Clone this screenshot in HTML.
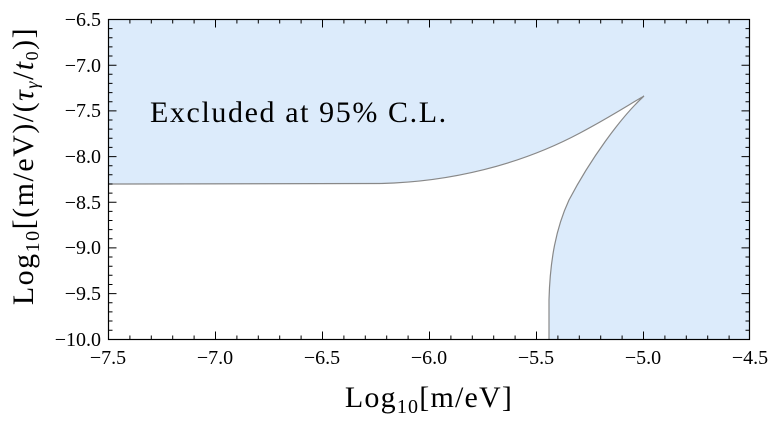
<!DOCTYPE html>
<html><head><style>body{margin:0;background:#fff}</style></head><body>
<svg width="774" height="418" xmlns="http://www.w3.org/2000/svg" font-family="Liberation Serif, serif">
<rect x="108.5" y="19.5" width="641" height="320" fill="#dcebfb"/>
<path d="M108.5,184 L380,183.5 C450,182 520,165 580,133 C610,117 630,104 644,96 C620,118 590,160 569,200 C556,228 550,260 549,300 L549,339.5 L108.5,339.5 Z" fill="#fff"/>
<path d="M108.5,184 L380,183.5 C450,182 520,165 580,133 C610,117 630,104 644,96 C620,118 590,160 569,200 C556,228 550,260 549,300 L549,339.5" fill="none" stroke="#888" stroke-width="1.2"/>
<rect x="108.5" y="19.5" width="641" height="320" fill="none" stroke="#000" stroke-width="1.2"/>
<g font-size="20" text-anchor="end">
<text x="101" y="26">−6.5</text><text x="101" y="72">−7.0</text><text x="101" y="117">−7.5</text><text x="101" y="163">−8.0</text><text x="101" y="209">−8.5</text><text x="101" y="254">−9.0</text><text x="101" y="300">−9.5</text><text x="101" y="346">−10.0</text>
</g>
<g font-size="20" text-anchor="middle">
<text x="108" y="364">−7.5</text><text x="215" y="364">−7.0</text><text x="322" y="364">−6.5</text><text x="429" y="364">−6.0</text><text x="536" y="364">−5.5</text><text x="643" y="364">−5.0</text><text x="750" y="364">−4.5</text>
</g>
<text x="150" y="122" font-size="30" letter-spacing="1.6">Excluded at 95% C.L.</text>
<text x="429" y="407" font-size="30" letter-spacing="1.2" text-anchor="middle">Log<tspan font-size="20" dy="6">10</tspan><tspan dy="-6">[m/eV]</tspan></text>
<text transform="translate(33,166) rotate(-90)" font-size="30" letter-spacing="1.5" text-anchor="middle">Log<tspan font-size="20" dy="6">10</tspan><tspan dy="-6">[(m/eV)/(</tspan><tspan font-style="italic">τ</tspan><tspan font-size="18" dy="5" font-style="italic">γ</tspan><tspan dy="-5">/</tspan><tspan font-style="italic">t</tspan><tspan font-size="18" dy="5">0</tspan><tspan dy="-5">)]</tspan></text>
<g stroke="#000" stroke-width="1">
<path d="M108.5,339.5v-8M129.9,339.5v-4M151.3,339.5v-4M172.7,339.5v-4M194.1,339.5v-4M215.5,339.5v-8M236.9,339.5v-4M258.3,339.5v-4M279.7,339.5v-4M301.1,339.5v-4M322.5,339.5v-8M343.9,339.5v-4M365.3,339.5v-4M386.7,339.5v-4M408.1,339.5v-4M429.5,339.5v-8M450.9,339.5v-4M472.3,339.5v-4M493.7,339.5v-4M515.1,339.5v-4M536.5,339.5v-8M557.9,339.5v-4M579.3,339.5v-4M600.7,339.5v-4M622.1,339.5v-4M643.5,339.5v-8M664.9,339.5v-4M686.3,339.5v-4M707.7,339.5v-4M729.1,339.5v-4"/>
<path d="M108.5,19.5v8M129.9,19.5v4M151.3,19.5v4M172.7,19.5v4M194.1,19.5v4M215.5,19.5v8M236.9,19.5v4M258.3,19.5v4M279.7,19.5v4M301.1,19.5v4M322.5,19.5v8M343.9,19.5v4M365.3,19.5v4M386.7,19.5v4M408.1,19.5v4M429.5,19.5v8M450.9,19.5v4M472.3,19.5v4M493.7,19.5v4M515.1,19.5v4M536.5,19.5v8M557.9,19.5v4M579.3,19.5v4M600.7,19.5v4M622.1,19.5v4M643.5,19.5v8M664.9,19.5v4M686.3,19.5v4M707.7,19.5v4M729.1,19.5v4"/>
<path d="M108.5,19.5h8M108.5,28.6h4M108.5,37.8h4M108.5,46.9h4M108.5,56h4M108.5,65.2h8M108.5,74.3h4M108.5,83.4h4M108.5,92.6h4M108.5,101.7h4M108.5,110.9h8M108.5,120h4M108.5,129.1h4M108.5,138.3h4M108.5,147.4h4M108.5,156.6h8M108.5,165.7h4M108.5,174.8h4M108.5,184h4M108.5,193.1h4M108.5,202.2h8M108.5,211.4h4M108.5,220.5h4M108.5,229.6h4M108.5,238.8h4M108.5,247.9h8M108.5,257h4M108.5,266.2h4M108.5,275.3h4M108.5,284.5h4M108.5,293.6h8M108.5,302.8h4M108.5,311.9h4M108.5,321h4M108.5,330.2h4"/>
<path d="M749.5,19.5h-8M749.5,28.6h-4M749.5,37.8h-4M749.5,46.9h-4M749.5,56h-4M749.5,65.2h-8M749.5,74.3h-4M749.5,83.4h-4M749.5,92.6h-4M749.5,101.7h-4M749.5,110.9h-8M749.5,120h-4M749.5,129.1h-4M749.5,138.3h-4M749.5,147.4h-4M749.5,156.6h-8M749.5,165.7h-4M749.5,174.8h-4M749.5,184h-4M749.5,193.1h-4M749.5,202.2h-8M749.5,211.4h-4M749.5,220.5h-4M749.5,229.6h-4M749.5,238.8h-4M749.5,247.9h-8M749.5,257h-4M749.5,266.2h-4M749.5,275.3h-4M749.5,284.5h-4M749.5,293.6h-8M749.5,302.8h-4M749.5,311.9h-4M749.5,321h-4M749.5,330.2h-4"/>
</g>
</svg>
</body></html>
